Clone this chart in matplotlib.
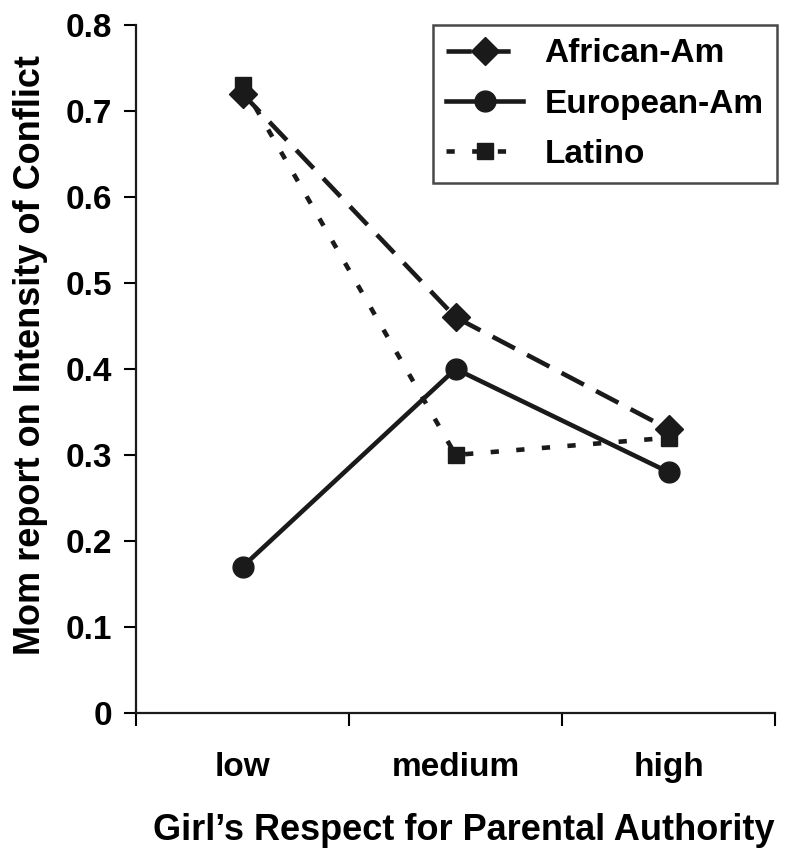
import matplotlib
matplotlib.use("Agg")
import matplotlib.pyplot as plt
from matplotlib.ticker import FixedLocator

categories = ["low", "medium", "high"]
african_am = [0.72, 0.46, 0.33]
european_am = [0.17, 0.40, 0.28]
latino = [0.73, 0.30, 0.32]
yticks = [0, 0.1, 0.2, 0.3, 0.4, 0.5, 0.6, 0.7, 0.8]
ytick_labels = ["0", "0.1", "0.2", "0.3", "0.4", "0.5", "0.6", "0.7", "0.8"]

plt.rcParams['font.family'] = ['Liberation Sans', 'DejaVu Sans']
plt.rcParams['font.weight'] = 'bold'

fig = plt.figure(figsize=(8, 8.59), dpi=100)
ax = fig.add_axes([0.17, 0.17, 0.799, 0.801])

x = [1, 2, 3]
c = "#1a1a1a"
ax.plot(x, african_am, color=c, lw=3.3, linestyle=(0, (5.5, 3)), marker="D",
        markersize=14, label="African-Am")
ax.plot(x, european_am, color=c, lw=3.3, linestyle="-", marker="o",
        markersize=15, label="European-Am")
ax.plot(x, latino, color=c, lw=3.3, linestyle=(0, (1.8, 3.8)), marker="s",
        markersize=12, label="Latino")

ax.set_xlim(0.5, 3.5)
ax.set_ylim(0, 0.8)
ax.set_yticks(yticks)
ax.set_yticklabels(ytick_labels, fontsize=24, fontweight="bold")
ax.xaxis.set_major_locator(FixedLocator([0.5, 1.5, 2.5, 3.5]))
ax.set_xticklabels([])
ax.xaxis.set_minor_locator(FixedLocator(x))
ax.set_xticklabels(categories, minor=True, fontsize=24, fontweight="bold")
ax.tick_params(axis="x", which="minor", length=0, pad=28)
ax.tick_params(axis="x", which="major", length=9, width=1.5, direction="out")
ax.tick_params(axis="y", length=9, width=1.5, direction="out", pad=8)

for s in ["top", "right"]:
    ax.spines[s].set_visible(False)
for s in ["left", "bottom"]:
    ax.spines[s].set_linewidth(1.6)
    ax.spines[s].set_color(c)

ax.set_ylabel("Mom report on Intensity of Conflict", fontsize=26, fontweight="bold", labelpad=13)
ax.set_xlabel("Girl\u2019s Respect for Parental Authority", fontsize=26, fontweight="bold", labelpad=22)
ax.yaxis.label.set_y(0.52)
ax.xaxis.label.set_x(0.513)

leg = ax.legend(loc="upper right", bbox_to_anchor=(1.003, 1.0), fontsize=24,
                frameon=True, fancybox=False, handlelength=2.3, borderpad=0.4,
                labelspacing=0.58, handletextpad=0.65, borderaxespad=0)
leg.get_frame().set_edgecolor(c)
leg.get_frame().set_linewidth(1.8)
for t in leg.get_texts():
    t.set_fontweight("bold")

fig.savefig("out.png", dpi=100)
